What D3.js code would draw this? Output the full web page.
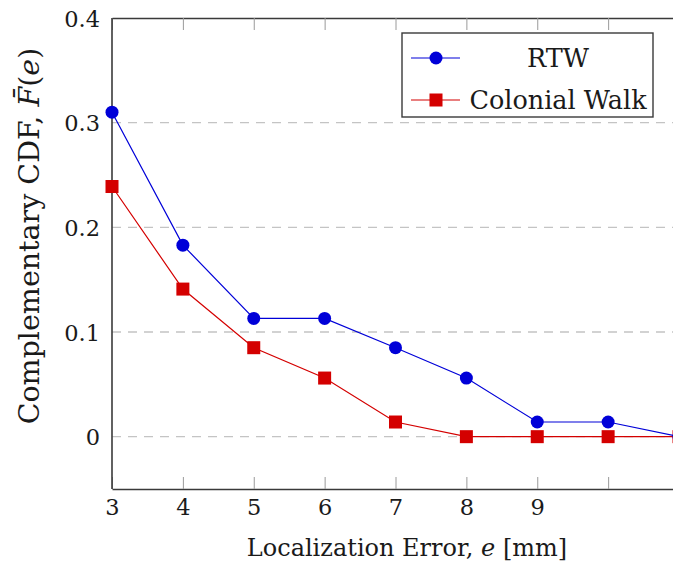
<!DOCTYPE html>
<html>
<head>
<meta charset="utf-8">
<script src="https://cdnjs.cloudflare.com/ajax/libs/d3/7.8.5/d3.min.js"></script>
<style>
    body { margin: 0; background: #fff; }
    svg { display: block; overflow: hidden; }
    text { font-family: "DejaVu Serif", serif; fill: #1a1a1a; }
</style>
</head>
<body>
<svg id="chart"></svg>
<script>
// Data
var errorValues = [3, 4, 5, 6, 7, 8, 9, 10, 11];
var rtwValues = [0.310, 0.183, 0.113, 0.113, 0.085, 0.056, 0.014, 0.014, 0];
var colonialValues = [0.239, 0.141, 0.085, 0.056, 0.014, 0, 0, 0, 0];
var xTickValues = [3, 4, 5, 6, 7, 8, 9, 10];
var xTickLabels = ["3", "4", "5", "6", "7", "8", "9", ""];
var yTickValues = [0, 0.1, 0.2, 0.3, 0.4];
var yTickLabels = ["0", "0.1", "0.2", "0.3", "0.4"];
var seriesNames = ["RTW", "Colonial Walk"];

var width = 673;
var height = 573;
var plot = {left: 112, right: 679, top: 18, bottom: 489};
var serif = "DejaVu Serif";

var svg = d3.select("#chart")
    .attr("width", width)
    .attr("height", height);

var xScale = d3.scaleLinear()
    .domain([3, 11])
    .range([plot.left, plot.right]);

var yScale = d3.scaleLinear()
    .domain([-0.05, 0.4])
    .range([plot.bottom, plot.top]);

// dashed horizontal grid
svg.append("g")
    .selectAll("line")
    .data(yTickValues.filter(function (d) {return d < 0.4;}))
    .enter()
    .append("line")
    .attr("x1", plot.left)
    .attr("x2", plot.right)
    .attr("y1", function (d) {return yScale(d);})
    .attr("y2", function (d) {return yScale(d);})
    .attr("stroke", "#c4c4c4")
    .attr("stroke-width", 1.3)
    .attr("stroke-dasharray", "9,7");

// axes (ticks point inward like pgfplots)
var xAxis = d3.axisBottom(xScale)
    .tickValues(xTickValues)
    .tickSizeInner(-12)
    .tickSizeOuter(0)
    .tickPadding(10)
    .tickFormat(function (d, i) {return xTickLabels[i];});

var xAxisTop = d3.axisTop(xScale)
    .tickValues(xTickValues)
    .tickSizeInner(-12)
    .tickSizeOuter(0)
    .tickFormat("");

var yAxis = d3.axisLeft(yScale)
    .tickValues(yTickValues)
    .tickSize(0)
    .tickPadding(12)
    .tickFormat(function (d, i) {return yTickLabels[i];});

var gx = svg.append("g")
    .attr("transform", "translate(0," + plot.bottom + ")")
    .call(xAxis);

var gxTop = svg.append("g")
    .attr("transform", "translate(0," + plot.top + ")")
    .call(xAxisTop);

var gy = svg.append("g")
    .attr("transform", "translate(" + plot.left + ",0)")
    .call(yAxis);

[gx, gxTop, gy].forEach(function (g) {
    g.attr("font-family", serif);
    g.select(".domain").attr("stroke", "#3a3a3a").attr("stroke-width", 1.6);
    g.selectAll(".tick line").attr("stroke", "#9a9a9a").attr("stroke-width", 1);
    g.selectAll(".tick text")
        .attr("font-size", 22.5)
        .attr("fill", "#1a1a1a");
});
gy.select(".domain").attr("d", "M0," + plot.bottom + "V" + plot.top);
gy.selectAll(".tick text").attr("dy", "0.36em");

// series
var series = [
    {name: seriesNames[0], values: rtwValues, color: "#0000d8", shape: "circle"},
    {name: seriesNames[1], values: colonialValues, color: "#d40000", shape: "square"}
];

var line = d3.line()
    .x(function (d) {return xScale(d[0]);})
    .y(function (d) {return yScale(d[1]);});

function drawMarker(g, shape, color) {
    if (shape === "circle") {
        g.append("circle").attr("r", 6.5).attr("fill", color);
    } else {
        g.append("rect")
            .attr("x", -6.5).attr("y", -6.5)
            .attr("width", 13).attr("height", 13)
            .attr("fill", color);
    }
}

// draw red first so the blue sits on top where they meet
series.slice().reverse().forEach(function (s) {
    var pts = errorValues.map(function (x, i) {return [x, s.values[i]];});
    svg.append("path")
        .datum(pts)
        .attr("d", line)
        .attr("fill", "none")
        .attr("stroke", s.color)
        .attr("stroke-width", 1.2);
    svg.append("g").selectAll("g")
        .data(pts)
        .enter()
        .append("g")
        .attr("transform", function (d) {return "translate(" + xScale(d[0]) + "," + yScale(d[1]) + ")";})
        .each(function () {drawMarker(d3.select(this), s.shape, s.color);});
});

// legend
var legend = svg.append("g").attr("transform", "translate(402,33)");
legend.append("rect")
    .attr("width", 251)
    .attr("height", 84)
    .attr("fill", "#fff")
    .attr("stroke", "#3a3a3a")
    .attr("stroke-width", 1.4);

var rows = legend.selectAll("g.row")
    .data(series)
    .enter()
    .append("g")
    .attr("class", "row")
    .attr("transform", function (d, i) {return "translate(0," + (25 + i * 42) + ")";});

rows.append("line")
    .attr("x1", 9).attr("x2", 58)
    .attr("stroke", function (d) {return d.color;})
    .attr("stroke-width", 1.2);

rows.append("g")
    .attr("transform", "translate(34,0)")
    .each(function (d) {drawMarker(d3.select(this), d.shape, d.color);});

rows.append("text")
    .attr("x", 156)
    .attr("dy", "0.35em")
    .attr("text-anchor", "middle")
    .attr("font-size", 25.5)
    .text(function (d) {return d.name;});

// axis titles
var xTitle = svg.append("text")
    .attr("x", 407)
    .attr("y", 556)
    .attr("text-anchor", "middle")
    .attr("font-size", 24);
xTitle.append("tspan").text("Localization Error, ");
xTitle.append("tspan").attr("font-style", "italic").text("e");
xTitle.append("tspan").text(" [mm]");

var yTitle = svg.append("text")
    .attr("transform", "translate(39,236) rotate(-90)")
    .attr("text-anchor", "middle")
    .attr("font-size", 28.5);
yTitle.append("tspan").text("Complementary CDF, ");
yTitle.append("tspan").attr("font-style", "italic").text("F\u0304");
yTitle.append("tspan").text("(");
yTitle.append("tspan").attr("font-style", "italic").text("e");
yTitle.append("tspan").text(")");
</script>
</body>
</html>
